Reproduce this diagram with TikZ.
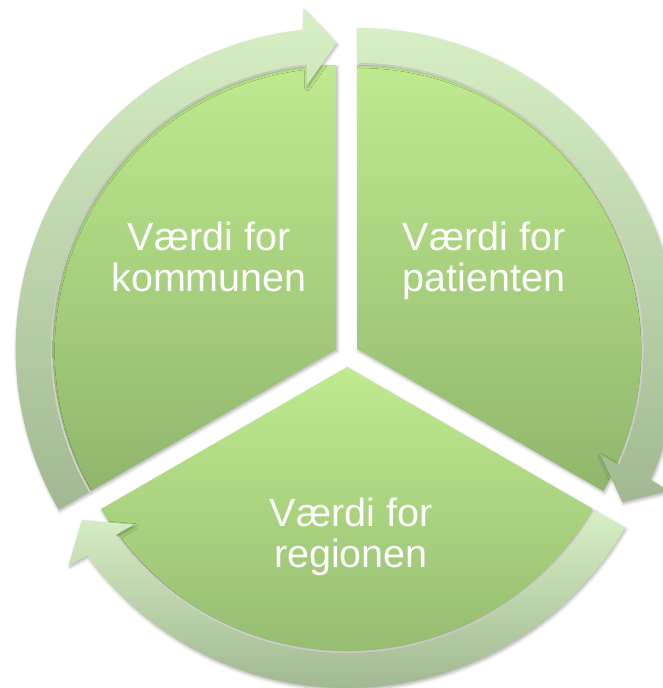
\documentclass[tikz,border=0pt]{standalone}
\usepackage{fontspec}
\setmainfont{Liberation Sans}
\usetikzlibrary{calc,shadows.blur}
\definecolor{secTop}{HTML}{BFEA8F}
\definecolor{secBot}{HTML}{90B66C}
\definecolor{ringTop}{HTML}{D8EFC5}
\definecolor{ringBot}{HTML}{A2B892}
\tikzset{
  sector/.style={top color=secTop, bottom color=secBot, draw=none,
    blur shadow={shadow xshift=1pt, shadow yshift=-2pt, shadow blur radius=3pt, shadow opacity=30}},
  ringarrow/.style={top color=ringTop, bottom color=ringBot, draw=none,
    blur shadow={shadow xshift=1pt, shadow yshift=-2pt, shadow blur radius=3pt, shadow opacity=30}},
  segtext/.style={text=white, font=\fontsize{39.5}{41}\selectfont, align=center, anchor=base, inner sep=0pt}
}
% #1 centre, #2 tail angle, #3 tip angle (clockwise arrow)
\newcommand\cyclearrow[3]{%
  \path[ringarrow]
    ($(#1)+(#2:321pt)$) arc[start angle=#2, end angle=#3+6, radius=321pt]
    -- ($(#1)+(#3+5.5:342pt)$)
    -- ($(#1)+(#3:306pt)$)
    -- ($(#1)+(#3+6.5:265pt)$)
    -- ($(#1)+(#3+6:286pt)$)
    arc[start angle=#3+6, end angle=#2, radius=286pt] -- cycle;}
\begin{document}
\begin{tikzpicture}[x=1pt,y=1pt]
\useasboundingbox (0,0) rectangle (663,688);
\coordinate (LC) at (336.6,339);
\coordinate (RC) at (357.4,339);
\coordinate (BC) at (347,321);
% sectors
\path[sector] (LC) -- ++(90:284pt) arc[start angle=90, end angle=210, radius=284pt] -- cycle;
\path[sector] (RC) -- ++(-30:284pt) arc[start angle=-30, end angle=90, radius=284pt] -- cycle;
\path[sector] (BC) -- ++(210:284pt) arc[start angle=210, end angle=330, radius=284pt] -- cycle;
% ring arrows
\cyclearrow{LC}{210}{90}
\cyclearrow{RC}{90}{-30}
\cyclearrow{BC}{330}{210}
% texts
\node[segtext] (k) at (209,396) {Værdi for\\kommunen};
\node[segtext] (p) at (484,396) {Værdi for\\patienten};
\node[segtext] (r) at (351,120) {Værdi for\\regionen};
\end{tikzpicture}
\end{document}
